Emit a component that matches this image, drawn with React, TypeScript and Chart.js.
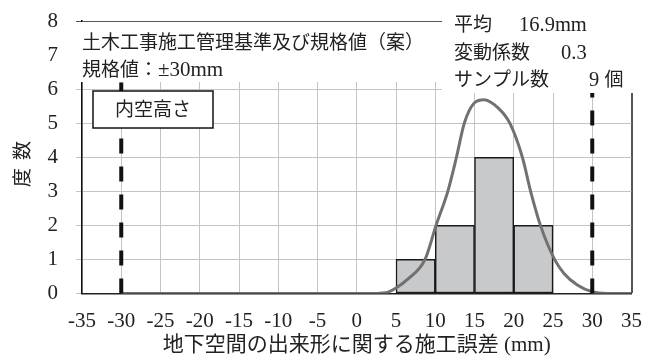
import React, { useEffect, useRef } from 'react';
import { Chart, registerables } from 'chart.js';

Chart.register(...registerables);

// ---- data ----
const binStarts = [5, 10, 15, 20];
const binEnds = [10, 15, 20, 25];
const frequencies = [1, 2, 4, 2];

const curveX = [-30, 0, 2, 3, 4, 5, 6.5, 8.7, 10.1, 11.6, 12.7, 13.7, 15, 16.2, 18, 19.5, 21.1, 22.15, 23.4, 25.2, 26.4, 28.1, 30, 32, 35];
const curveY = [0, 0, 0, 0.01, 0.04, 0.16, 0.42, 1.0, 2.0, 3.0, 4.0, 5.0, 5.6, 5.69, 5.45, 5.0, 4.0, 3.0, 2.0, 1.0, 0.59, 0.25, 0.05, 0, 0];

const limitX = [-30, 30];
const limitSpan = [0, 8];

const xMin = -35;
const xMax = 35;
const xStep = 5;
const yMin = 0;
const yMax = 8;
const yStep = 1;

const noteLines = ['土木工事施工管理基準及び規格値（案）', '規格値：±30mm'];
const statLabels = ['平均', '変動係数', 'サンプル数'];
const statValues = ['16.9mm', '0.3', '9 個'];
const boxLabel = '内空高さ';
const xTitle = '地下空間の出来形に関する施工誤差 (mm)';
const yTitle = '度 数';

// ---- styles ----
const SERIF = "'Liberation Serif', 'Times New Roman', serif";
const CJK = "'Noto Sans CJK JP', sans-serif";
const MIXED = "'Liberation Serif', 'Noto Sans CJK JP', serif";
const TEXT = '#222';

function drawMixed(ctx: CanvasRenderingContext2D, text: string, x: number, y: number, cjkSize: number, latinSize: number) {
  const runs = text.match(/[\x00-\x7F±]+|[^\x00-\x7F±]+/g) || [];
  for (const r of runs) {
    const latin = /^[\x00-\x7F±]/.test(r);
    ctx.font = latin ? `${latinSize}px ${SERIF}` : `${cjkSize}px ${CJK}`;
    ctx.fillText(r, x, y);
    x += ctx.measureText(r).width;
  }
  return x;
}

const overlayPlugin = {
  id: 'overlay',
  afterDraw(chart: any) {
    const ctx: CanvasRenderingContext2D = chart.ctx;
    ctx.save();
    // white text panels over the plot
    ctx.fillStyle = '#fff';
    ctx.fillRect(74, 22, 374, 60);
    ctx.fillRect(442, 0, 220, 93);

    ctx.fillStyle = TEXT;
    ctx.textBaseline = 'alphabetic';
    ctx.textAlign = 'left';
    // left note
    drawMixed(ctx, noteLines[0], 82, 48.5, 19, 20.5);
    drawMixed(ctx, noteLines[1], 82, 75.5, 19, 21);

    // stats
    const statBase = [31, 58.5, 86];
    const valueX = [519, 561, 589];
    statLabels.forEach((l, i) => {
      drawMixed(ctx, l, 454, statBase[i], 19, 20.5);
      drawMixed(ctx, statValues[i], valueX[i], statBase[i], 19, 20.5);
    });

    // labelled box
    ctx.fillStyle = '#fff';
    ctx.fillRect(93, 91, 120, 37);
    ctx.strokeStyle = '#111';
    ctx.lineWidth = 1.5;
    ctx.strokeRect(93, 91, 120, 37);
    ctx.fillStyle = TEXT;
    ctx.font = `19px ${CJK}`;
    ctx.textAlign = 'center';
    ctx.fillText(boxLabel, 153, 116);

    // y title (rotated, reading bottom to top)
    ctx.save();
    ctx.translate(22, 164);
    ctx.rotate(-Math.PI / 2);
    ctx.textAlign = 'center';
    ctx.textBaseline = 'middle';
    ctx.font = `19px ${CJK}`;
    const chars = yTitle.split(' ');
    ctx.fillText(chars[0], -13.5, 0);
    ctx.fillText(chars[1], 13.5, 0);
    ctx.restore();

    ctx.restore();
  },
};

export default function App() {
  const canvasRef = useRef<HTMLCanvasElement | null>(null);

  useEffect(() => {
    if (!canvasRef.current) return;
    const bars = binStarts.map((s, i) => ({ x: (s + binEnds[i]) / 2, y: frequencies[i] }));
    const curve = curveX.map((x, i) => ({ x, y: curveY[i] }));
    const limitSets = limitX.map((lx) => ({
      type: 'line' as const,
      data: limitSpan.map((y) => ({ x: lx, y })),
      borderColor: '#111',
      borderWidth: 4,
      borderDash: [15, 13],
      pointRadius: 0,
      fill: false,
      order: 0,
    }));

    const chart = new Chart(canvasRef.current, {
      type: 'bar',
      data: {
        datasets: [
          {
            type: 'bar',
            data: bars,
            backgroundColor: '#c8c9cb',
            borderColor: '#1a1a1a',
            borderWidth: 1.5,
            borderSkipped: false,
            barPercentage: 1,
            categoryPercentage: 1,
            order: 3,
          } as any,
          {
            type: 'line',
            data: curve,
            borderColor: '#717171',
            borderWidth: 3,
            pointRadius: 0,
            cubicInterpolationMode: 'monotone',
            fill: false,
            order: 1,
          } as any,
          ...(limitSets as any[]),
        ],
      },
      options: {
        responsive: true,
        maintainAspectRatio: false,
        animation: false,
        parsing: true,
        layout: { padding: { left: 0, right: 30.5, top: 21, bottom: 0 } },
        plugins: { legend: { display: false }, tooltip: { enabled: false } },
        scales: {
          x: {
            type: 'linear',
            min: xMin,
            max: xMax,
            offset: false,
            ticks: {
              stepSize: xStep,
              padding: 15,
              color: TEXT,
              font: { family: SERIF, size: 21 },
            },
            grid: {
              offset: false,
              drawTicks: false,
              color: (c: any) => (c.tick && c.tick.value === xMax ? '#555' : '#c4c4c4'),
              lineWidth: (c: any) => (c.tick && c.tick.value === xMax ? 2 : 1),
            },
            border: { display: true, color: '#222', width: 1.5 },
            title: {
              display: true,
              text: xTitle,
              color: TEXT,
              font: { family: MIXED, size: 21 },
              padding: { top: 0, bottom: 2 },
            },
            afterFit: (s: any) => {
              s.height = 66.5;
            },
          },
          y: {
            type: 'linear',
            min: yMin,
            max: yMax,
            ticks: {
              stepSize: yStep,
              padding: 18,
              color: TEXT,
              font: { family: SERIF, size: 21 },
            },
            grid: {
              drawTicks: true,
              tickLength: 6,
              color: (c: any) => (c.tick && c.tick.value === yMax ? '#555' : '#c4c4c4'),
            },
            border: { display: true, color: '#111', width: 1.5 },
            afterFit: (s: any) => {
              s.width = 82;
              s.paddingTop = 0;
              s.paddingBottom = 0;
            },
          },
        },
      },
      plugins: [overlayPlugin],
    } as any);

    return () => chart.destroy();
  }, []);

  return (
    <div style={{ position: 'fixed', left: 0, top: 0, width: 662, height: 360, background: '#fff' }}>
      <canvas ref={canvasRef} />
    </div>
  );
}
